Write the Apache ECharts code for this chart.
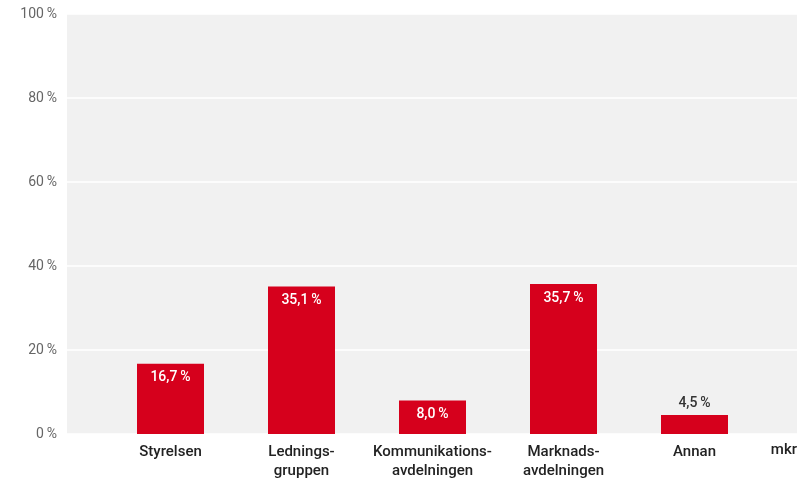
<!DOCTYPE html>
<html>
<head>
<meta charset="utf-8">
<script src="https://cdn.jsdelivr.net/npm/echarts@6/dist/echarts.min.js"></script>
<style>
  html, body { margin: 0; padding: 0; background: #fff; }
  #chart { width: 810px; height: 481px; }
</style>
</head>
<body>
<div id="chart"></div>
<script>
// Share per department (percent)
const categories = ['Styrelsen', 'Lednings-\ngruppen', 'Kommunikations-\navdelningen', 'Marknads-\navdelningen', 'Annan'];
const shares = [16.7, 35.1, 8.0, 35.7, 4.5];
const yTicks = [0, 20, 40, 60, 80, 100];
const unitLabel = 'mkr';

const FONT = 'Roboto, "DejaVu Sans", sans-serif';
const RED = '#d6001c';
const fmt = v => v.toFixed(1).replace('.', ',') + '\u2009%';

// Small bars get their label above; taller bars carry it inside the top
const barData = shares.map(v => ({
  value: v,
  label: v < 6
    ? { position: 'top', distance: 5, color: '#333' }
    : { position: 'insideTop', distance: 7, color: '#fff' }
}));

const chart = echarts.init(document.getElementById('chart'));
chart.setOption({
  animation: false,
  grid: [
    // background panel with percentage gridlines
    { left: 67, right: 13, top: 14, bottom: 47, show: true, backgroundColor: '#f1f1f1', borderWidth: 0 },
    // inner band holding the category bars
    { left: 105, right: 50, top: 14, bottom: 47 }
  ],
  xAxis: [
    { gridIndex: 0, type: 'value', show: false, min: 0, max: 1 },
    {
      gridIndex: 1, type: 'category', data: categories,
      axisLine: { show: false }, axisTick: { show: false },
      axisLabel: { color: '#222', fontFamily: FONT, fontSize: 15, fontWeight: 500, lineHeight: 19, margin: 9, interval: 0 }
    }
  ],
  yAxis: [
    {
      gridIndex: 0, type: 'value', min: yTicks[0], max: yTicks[yTicks.length - 1], interval: 20,
      axisLine: { show: false }, axisTick: { show: false },
      splitLine: { show: true, lineStyle: { color: '#ffffff', width: 1.5 } },
      axisLabel: { color: '#666', fontFamily: FONT, fontSize: 14, margin: 10, formatter: v => v + '\u2009%' }
    },
    { gridIndex: 1, type: 'value', min: 0, max: 100, show: false }
  ],
  graphic: [{
    type: 'text', right: 13, top: 443,
    style: { text: unitLabel, fill: '#222', font: '500 15px ' + FONT }
  }],
  series: [{
    type: 'bar', xAxisIndex: 1, yAxisIndex: 1,
    data: barData, barWidth: 67,
    itemStyle: { color: RED },
    label: { show: true, fontFamily: FONT, fontSize: 14, fontWeight: 500, formatter: p => fmt(p.value) }
  }]
});
</script>
</body>
</html>
